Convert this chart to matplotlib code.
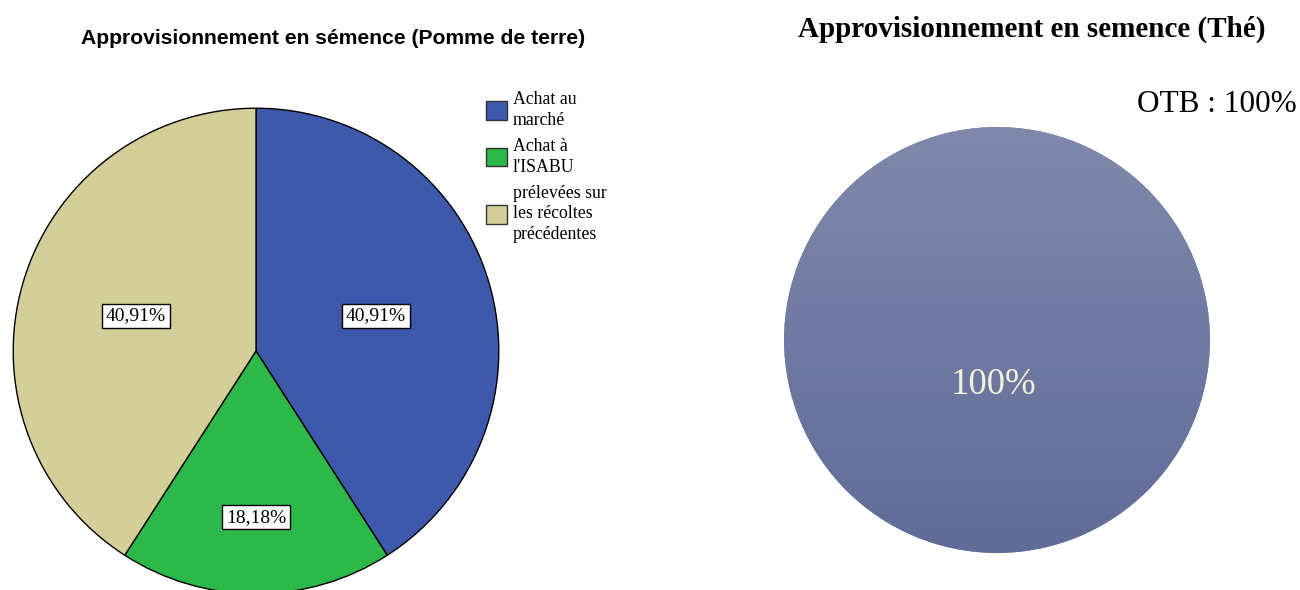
import matplotlib
matplotlib.use("Agg")
import matplotlib.pyplot as plt
import numpy as np
from matplotlib.colors import LinearSegmentedColormap

# Data
potato_labels = ["Achat au\nmarché", "Achat à\nl'ISABU", "prélevées sur\nles récoltes\nprécédentes"]
potato_values = [40.91, 18.18, 40.91]
potato_texts = ["40,91%", "18,18%", "40,91%"]
potato_colors = ["#3E58AC", "#2DB84A", "#D4CE99"]

tea_labels = ["OTB"]
tea_values = [100]

W, H = 1300, 590
fig = plt.figure(figsize=(W / 100, H / 100), dpi=100)

def px_axes(x0, y0, x1, y1):
    return fig.add_axes([x0 / W, 1 - y1 / H, (x1 - x0) / W, (y1 - y0) / H])

# Left pie
ax1 = px_axes(12, 107, 500, 595)
wedges, _ = ax1.pie(potato_values, colors=potato_colors, startangle=90, counterclock=False,
                    radius=1, wedgeprops=dict(edgecolor="black", linewidth=1.0))
ax1.set_xlim(-1.005, 1.005)
ax1.set_ylim(-1.005, 1.005)
ax1.set_aspect("equal")
ax1.axis("off")

label_r = [0.515, 0.685, 0.515]
for w, t, r in zip(wedges, potato_texts, label_r):
    ang = np.deg2rad((w.theta1 + w.theta2) / 2)
    ax1.text(r * np.cos(ang), r * np.sin(ang), t, ha="center", va="center",
             family="Liberation Serif", fontsize=14,
             bbox=dict(boxstyle="square,pad=0.18", facecolor="white", edgecolor="black", linewidth=1.0))

fig.text(333 / W, 1 - 38 / H, "Approvisionnement en sémence (Pomme de terre)", ha="center", va="center",
         family="Liberation Sans", fontweight="bold", fontsize=15.2)

leg = fig.legend(wedges, potato_labels, loc="upper left", bbox_to_anchor=(486 / W, 1 - 91 / H),
                 frameon=False, prop=dict(family="Liberation Serif", size=12.8),
                 handlelength=1.2, handleheight=1.2, handletextpad=0.3, labelspacing=0.5,
                 borderpad=0, borderaxespad=0)
for h in leg.legend_handles:
    h.set_edgecolor("#333333")
for t in leg.get_texts():
    t.set_linespacing(1.3)

# Right pie with gradient
ax2 = px_axes(783, 126, 1211, 554)
tw, _ = ax2.pie(tea_values, colors=["#707CA4"], startangle=90, radius=1,
                wedgeprops=dict(edgecolor="none"))
cmap = LinearSegmentedColormap.from_list("g", ["#8089AB", "#606C98"])
grad = np.linspace(0, 1, 256).reshape(-1, 1)
im = ax2.imshow(grad, cmap=cmap, extent=[-1, 1, -1, 1], origin="upper", aspect="auto", zorder=2)
im.set_clip_path(tw[0])
ax2.set_xlim(-1.005, 1.005)
ax2.set_ylim(-1.005, 1.005)
ax2.set_aspect("equal")
ax2.axis("off")
ax2.text(-0.015, -0.21, f"{tea_values[0]}%", ha="center", va="center", color="#F4F0DA",
         family="Liberation Serif", fontsize=26.5, zorder=3)

fig.text(1032 / W, 1 - 29 / H, "Approvisionnement en semence (Thé)", ha="center", va="center",
         family="Liberation Serif", fontweight="bold", fontsize=21)
fig.text(1297 / W, 1 - 104 / H, f"{tea_labels[0]} : {tea_values[0]}%", ha="right", va="center",
         family="Liberation Serif", fontsize=22.5)

fig.savefig("out.png", dpi=100)
